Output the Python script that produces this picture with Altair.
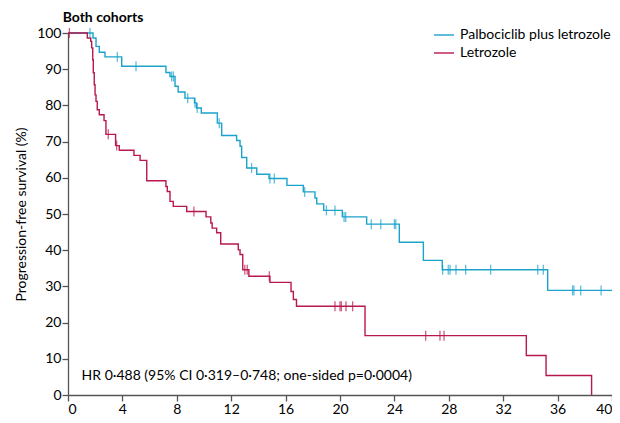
import altair as alt
import pandas as pd

BLUE = "#1ba3cc"
RED = "#b8184c"
FONT = "Lato"

groups = ["Palbociclib plus letrozole", "Letrozole"]

pal_t = [0, 1.84, 2.06, 2.3, 2.72, 3.95, 7.2, 7.5, 7.87, 8.1, 8.6, 9.3, 9.45, 9.8,
         10.98, 11.3, 12.4, 12.65, 12.77, 13.14, 13.88, 14.78, 16.1, 17.3, 18.16,
         18.29, 18.8, 20.17, 21.96, 24.36, 26.13, 27.52, 35.27, 40.5]
pal_s = [100, 98.6, 96.3, 94.7, 93.4, 90.8, 89.1, 88.0, 85.3, 83.7, 82.0, 80.7, 79.3, 77.9,
         75.1, 71.7, 70.3, 68.7, 65.6, 62.7, 61.0, 59.8, 57.9, 56.1, 54.4,
         52.8, 51.0, 49.2, 47.2, 42.2, 37.2, 34.6, 28.9, 28.9]
pal_cens = [1.62, 3.63, 5.0, 7.62, 7.75, 8.8, 9.34, 9.5, 11.12, 13.5, 14.85, 15.17, 17.4,
            19.0, 19.63, 20.3, 20.42, 22.3, 23.0, 24.0, 24.1, 27.55, 27.96, 28.09, 28.53,
            29.24, 31.08, 34.54, 34.95, 37.1, 37.2, 37.7, 39.2, 40.5]

let_t = [0, 1.42, 1.67, 1.74, 1.82, 1.86, 1.93, 1.99, 2.06, 2.15, 2.3, 2.65, 2.79, 3.5,
         3.77, 4.85, 5.3, 5.79, 7.2, 7.3, 7.5, 7.74, 8.73, 10.15, 10.5, 10.6, 10.93, 11.23,
         12.52, 12.65, 12.85, 13.3, 14.85, 16.4, 16.57, 16.8, 21.84, 33.7, 35.15, 38.5]
let_s = [100, 98.6, 97.7, 95.9, 92.6, 89.0, 85.7, 82.9, 81.1, 78.8, 77.4, 75.8, 72.0, 68.9,
         67.6, 66.2, 64.8, 59.2, 57.6, 56.2, 53.5, 52.1, 50.7, 49.2, 47.5, 46.1, 44.8, 41.7,
         40.1, 38.8, 34.6, 32.8, 31.1, 28.6, 26.4, 24.5, 16.4, 10.9, 5.4, 0]
let_cens = [0.1, 2.96, 3.58, 9.26, 13.0, 13.18, 14.8, 19.63, 20.0, 20.1, 20.44, 20.93,
            26.3, 27.35, 27.65]

annotation = "HR 0·488 (95% CI 0·319–0·748; one-sided p=0·0004)"
ann_t, ann_s = [1.0], [5.2]


def step_value(ts, ss, c):
    v = ss[0]
    for t, s in zip(ts, ss):
        if t <= c:
            v = s
    return v


rows = []
for g, ts, ss in [(groups[0], pal_t, pal_s), (groups[1], let_t, let_s)]:
    for i, (t, s) in enumerate(zip(ts, ss)):
        rows.append({"group": g, "t": t, "s": s, "o": i})
curves = pd.DataFrame(rows)

crow = []
for g, ts, ss, cs in [(groups[0], pal_t, pal_s, pal_cens), (groups[1], let_t, let_s, let_cens)]:
    for c in cs:
        crow.append({"group": g, "t": c, "s": step_value(ts, ss, c)})
cens = pd.DataFrame(crow)

ann = pd.DataFrame({"t": ann_t, "s": ann_s, "label": [annotation]})

cscale = alt.Scale(domain=groups, range=[BLUE, RED])
xenc = alt.X("t:Q", scale=alt.Scale(domain=[0, 40], nice=False),
             axis=alt.Axis(values=list(range(0, 41, 4)), title=None))
yenc = alt.Y("s:Q", scale=alt.Scale(domain=[0, 100], nice=False),
             axis=alt.Axis(values=list(range(0, 101, 10)), title="Progression-free survival (%)"))

lines = alt.Chart(curves).mark_line(interpolate="step-after", strokeWidth=1.4, clip=False).encode(
    x=xenc, y=yenc, order="o:Q",
    color=alt.Color("group:N", scale=cscale, sort=groups,
                    legend=alt.Legend(title=None, orient="none", legendX=365, legendY=-9,
                                      symbolType="stroke", symbolSize=400,
                                      symbolStrokeWidth=1.4, labelFontSize=14,
                                      labelFont=FONT, rowPadding=-1, labelOffset=5)))

ticks = alt.Chart(cens).mark_tick(orient="vertical", size=10, thickness=1.3, clip=False).encode(
    x=xenc, y=yenc, color=alt.Color("group:N", scale=cscale, legend=None))

text = alt.Chart(ann).mark_text(align="left", baseline="middle", fontSize=14, font=FONT,
                                color="black").encode(x=xenc, y=yenc, text="label:N")

chart = alt.layer(lines, ticks, text).properties(
    width=544, height=362,
    title=alt.TitleParams("Both cohorts", anchor="start", fontSize=14,
                          fontWeight="bold", font=FONT, dx=48, offset=-1, color="black"),
    padding={"left": 60, "top": 25, "right": 0, "bottom": 20},
    autosize=alt.AutoSizeParams(type="none"),
).configure_view(stroke=None).configure_axis(
    labelFont=FONT, titleFont=FONT, labelFontSize=14, titleFontSize=14,
    titleFontWeight="normal", labelColor="black", titleColor="black",
    domainColor="#555", tickColor="#555", tickSize=6, grid=False,
    labelPadding=1, titlePadding=8, domainWidth=1.3, tickWidth=1.3,
)

chart.save("out.html", embed_options={"renderer": "svg", "actions": False})
